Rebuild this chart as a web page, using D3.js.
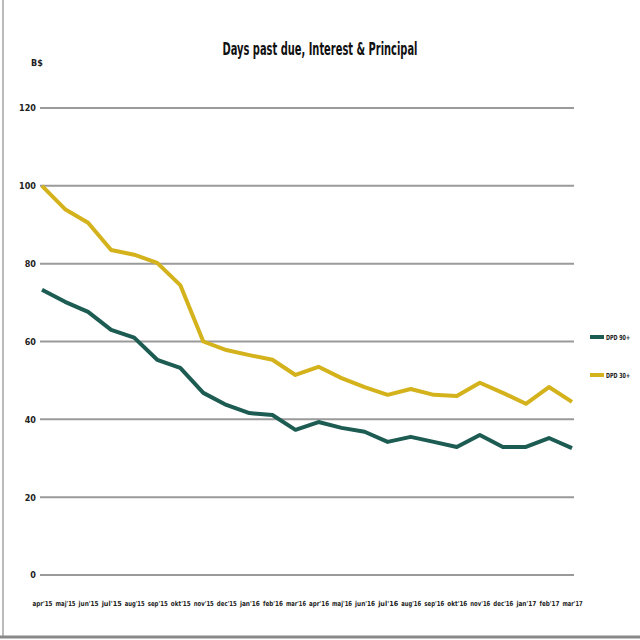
<!DOCTYPE html>
<html>
<head>
<meta charset="utf-8">
<script src="https://cdn.jsdelivr.net/npm/d3@7"></script>
<style>
  body { margin: 0; background: #fff; }
  text { font-family: "DejaVu Sans Condensed", "Liberation Sans Narrow", sans-serif; }
</style>
</head>
<body>
<svg id="chart" width="640" height="640"></svg>
<script>
// data
const months = ["apr'15", "maj'15", "jun'15", "jul'15", "aug'15", "sep'15", "okt'15", "nov'15",
  "dec'15", "jan'16", "feb'16", "mar'16", "apr'16", "maj'16", "jun'16", "jul'16",
  "aug'16", "sep'16", "okt'16", "nov'16", "dec'16", "jan'17", "feb'17", "mar'17"];
const dpd90 = [73.3, 70.2, 67.6, 63, 61, 55.3, 53.2, 46.8, 43.7, 41.6, 41.1, 37.3,
  39.3, 37.8, 36.8, 34.2, 35.5, 34.2, 32.9, 36, 32.9, 32.9, 35.2, 32.6];
const dpd30 = [100, 94, 90.5, 83.5, 82.3, 80.2, 74.5, 60, 57.8, 56.5, 55.3, 51.4,
  53.5, 50.6, 48.3, 46.3, 47.8, 46.3, 46, 49.4, 46.8, 44, 48.3, 44.5];
const yTicks = [0, 20, 40, 60, 80, 100, 120];
const seriesNames = ["DPD 90+", "DPD 30+"];
const seriesColors = ["#1d5c52", "#d4b21c"];

const svg = d3.select("#chart");

// frame
svg.append("line").attr("x1", 3).attr("x2", 3).attr("y1", 0).attr("y2", 636)
  .attr("stroke", "#bbb").attr("stroke-width", 2);
svg.append("line").attr("x1", 0).attr("x2", 640).attr("y1", 637).attr("y2", 637)
  .attr("stroke", "#888").attr("stroke-width", 3);

// scales
const x = d3.scalePoint().domain(months).range([42, 572]);
const y = d3.scaleLinear().domain([0, 120]).range([575, 108]);

// gridlines
svg.append("g")
  .selectAll("line")
  .data(yTicks)
  .enter()
  .append("line")
  .attr("x1", 40).attr("x2", 574)
  .attr("y1", (d) => y(d)).attr("y2", (d) => y(d))
  .attr("stroke", "#9a9a9a")
  .attr("stroke-width", 2);

// y axis labels
const yAxis = svg.append("g")
  .attr("transform", "translate(36,0)")
  .call(d3.axisLeft(y).tickValues(yTicks).tickSize(0).tickPadding(0));
yAxis.select(".domain").remove();
yAxis.selectAll("text")
  .attr("font-size", 9)
  .attr("font-weight", "bold")
  .attr("fill", "#222");

// unit label
svg.append("text")
  .attr("x", 37).attr("y", 66)
  .attr("text-anchor", "middle")
  .attr("font-size", 9)
  .attr("font-weight", "bold")
  .attr("fill", "#222")
  .text("B$");

// x axis labels, squeezed to fit one slot each
const xAxis = svg.append("g")
  .attr("transform", "translate(0,601)")
  .call(d3.axisBottom(x).tickSize(0).tickPadding(0));
xAxis.select(".domain").remove();
xAxis.selectAll("text")
  .attr("font-size", 7)
  .attr("font-weight", "bold")
  .attr("fill", "#222")
  .attr("textLength", 20)
  .attr("lengthAdjust", "spacingAndGlyphs");

// title
svg.append("text")
  .attr("x", 320).attr("y", 55)
  .attr("text-anchor", "middle")
  .attr("font-size", 18)
  .attr("font-weight", "bold")
  .attr("fill", "#111")
  .attr("textLength", 195)
  .attr("lengthAdjust", "spacingAndGlyphs")
  .text("Days past due, Interest & Principal");

// lines
const line = d3.line()
  .x((d, i) => x(months[i]))
  .y((d) => y(d));

[dpd90, dpd30].forEach(function (vals, k) {
  svg.append("path")
    .datum(vals)
    .attr("fill", "none")
    .attr("stroke", seriesColors[k])
    .attr("stroke-width", 4)
    .attr("stroke-linejoin", "round")
    .attr("d", line);
});

// legend
const legend = svg.append("g")
  .selectAll("g")
  .data(seriesNames)
  .enter()
  .append("g")
  .attr("transform", (d, i) => "translate(590," + (337 + i * 38) + ")");

legend.append("line")
  .attr("x1", 0).attr("x2", 14)
  .attr("stroke", (d, i) => seriesColors[i])
  .attr("stroke-width", 4);

legend.append("text")
  .attr("x", 16).attr("y", 3)
  .attr("font-size", 7)
  .attr("font-weight", "bold")
  .attr("fill", "#222")
  .attr("textLength", 24)
  .attr("lengthAdjust", "spacingAndGlyphs")
  .text((d) => d);
</script>
</body>
</html>
